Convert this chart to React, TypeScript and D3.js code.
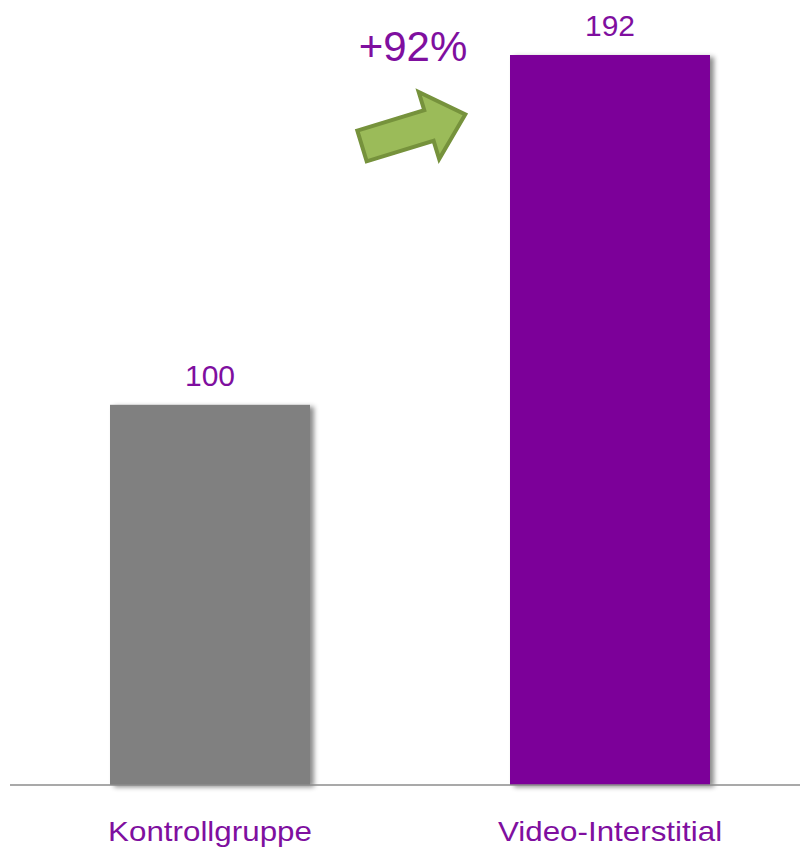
import React from "react";
import * as d3 from "d3";

const categories = ["Kontrollgruppe", "Video-Interstitial"];
const values = [100, 192];
const barColors = ["#808080", "#7B0099"];
const upliftLabel = "+92%";

const W = 800;
const H = 852;
const baseY = 785;

export default function App() {
  const x = d3
    .scaleBand<string>()
    .domain(categories)
    .range([10, 810])
    .paddingInner(0.5)
    .paddingOuter(0.25);
  const y = d3.scaleLinear().domain([0, 192]).range([baseY, 55]);

  const font = "'Liberation Sans', Arial, sans-serif";
  const textColor = "#7F0F9F";

  // arrow in local coordinates
  const arrowPts: [number, number][] = [
    [0, -16],
    [70, -16],
    [70, -35],
    [108, 0],
    [70, 35],
    [70, 16],
    [0, 16],
  ];
  const arrowPath = d3.line()(arrowPts) + "Z";

  return (
    <div style={{ position: "absolute", left: 0, top: 0 }}>
      <svg width={W} height={H} style={{ display: "block", background: "#fff" }}>
        <defs>
          <filter id="shadow" x="-20%" y="-20%" width="140%" height="140%">
            <feDropShadow dx="4" dy="2" stdDeviation="2.5" floodColor="#000" floodOpacity="0.45" />
          </filter>
        </defs>
        {categories.map((c, i) => (
          <rect
            key={c}
            x={x(c)}
            y={y(values[i])}
            width={x.bandwidth()}
            height={baseY - y(values[i])}
            fill={barColors[i]}
            filter="url(#shadow)"
          />
        ))}
        <line x1={10} x2={800} y1={baseY} y2={baseY} stroke="#8c8c8c" strokeWidth={1.5} />
        {categories.map((c, i) => (
          <text
            key={c + "v"}
            x={(x(c) as number) + x.bandwidth() / 2}
            y={y(values[i]) - 19}
            textAnchor="middle"
            fontFamily={font}
            fontSize={30}
            fill={textColor}
          >
            {values[i]}
          </text>
        ))}
        {categories.map((c) => {
          const cx = (x(c) as number) + x.bandwidth() / 2;
          return (
            <text
              key={c + "l"}
              transform={`translate(${cx},841) scale(1.12,1)`}
              textAnchor="middle"
              fontFamily={font}
              fontSize={28}
              fill={textColor}
            >
              {c}
            </text>
          );
        })}
        <text x={413} y={61} textAnchor="middle" fontFamily={font} fontSize={42} fill={textColor}>
          {upliftLabel}
        </text>
        <path
          d={arrowPath}
          transform="translate(362,146) rotate(-17)"
          fill="#9BBB59"
          stroke="#76923C"
          strokeWidth={4}
          strokeLinejoin="miter"
        />
      </svg>
    </div>
  );
}
